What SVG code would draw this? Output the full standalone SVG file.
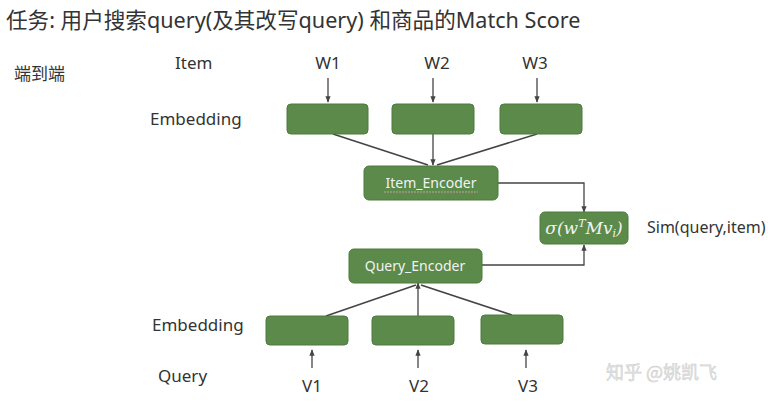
<svg xmlns="http://www.w3.org/2000/svg" width="768" height="402" viewBox="0 0 768 402">
<defs>
<marker id="ah" viewBox="0 0 10 10" refX="9" refY="5" markerWidth="5" markerHeight="5" orient="auto"><path d="M0,1 L10,5 L0,9 z" fill="#444"/></marker>
<style>
.t{font-family:"Noto Sans","Noto Sans CJK SC",sans-serif;fill:#333;}
.b{fill:#5b8a4a;stroke:#4d7a3e;stroke-width:1;}
.bt{font-family:"Noto Sans",sans-serif;fill:#f2f2f2;font-size:14px;text-anchor:middle;}
.c{stroke:#444;stroke-width:1.6;fill:none;}
.a{stroke:#444;stroke-width:1.3;fill:none;marker-end:url(#ah);}
</style>
</defs>
<rect width="768" height="402" fill="#fff"/>
<text class="t" x="6" y="28" font-size="21.6">任务: 用户搜索query(及其改写query) 和商品的Match Score</text>
<text class="t" x="14" y="80" font-size="17">端到端</text>
<text class="t" x="175" y="69" font-size="17">Item</text>
<text class="t" x="150" y="125" font-size="17">Embedding</text>
<text class="t" x="152" y="331" font-size="17">Embedding</text>
<text class="t" x="158" y="382" font-size="17">Query</text>
<text class="t" x="328" y="69" font-size="17" text-anchor="middle">W1</text>
<text class="t" x="437" y="69" font-size="17" text-anchor="middle">W2</text>
<text class="t" x="535" y="69" font-size="17" text-anchor="middle">W3</text>
<text class="t" x="312" y="392" font-size="17" text-anchor="middle">V1</text>
<text class="t" x="419" y="392" font-size="17" text-anchor="middle">V2</text>
<text class="t" x="528" y="392" font-size="17" text-anchor="middle">V3</text>
<text class="t" x="647" y="233" font-size="16">Sim(query,item)</text>
<g id="connectors">
<path class="a" d="M328,78 V102"/>
<path class="a" d="M433,78 V102"/>
<path class="a" d="M537,78 V102"/>
<path class="c" d="M333,134 L428,165"/>
<path class="a" d="M433,134 V165"/>
<path class="c" d="M537,134 L437,165"/>
<path class="a" d="M498,183 H584 V212"/>
<path class="a" d="M482,265 H584 V245"/>
<path class="c" d="M326,316 L416,285"/>
<path class="a" d="M418,316 V283"/>
<path class="c" d="M512,315 L421,285"/>
<path class="a" d="M312,368 V350"/>
<path class="a" d="M418,368 V350"/>
<path class="a" d="M526,368 V350"/>
</g>
<g id="emb_w1"><rect class="b" x="287" y="104" width="81" height="30" rx="4"/></g>
<g id="emb_w2"><rect class="b" x="392" y="104" width="82" height="30" rx="4"/></g>
<g id="emb_w3"><rect class="b" x="500" y="104" width="82" height="30" rx="4"/></g>
<g id="item_encoder"><rect class="b" x="364" y="166" width="134" height="34" rx="5"/><text class="bt" x="431" y="188">Item_Encoder</text><path d="M384,192 H478" stroke="#c9a0a0" stroke-width="1" stroke-dasharray="2,1" fill="none"/></g>
<g id="sigma"><rect class="b" x="540" y="212" width="88" height="32" rx="5"/><text x="584" y="234" font-family="'DejaVu Serif',serif" font-style="italic" font-size="17" fill="#f2f2f2" text-anchor="middle">σ(w<tspan font-size="11" dy="-7">T</tspan><tspan dy="7">Mv</tspan><tspan font-size="11" dy="3">i</tspan><tspan dy="-3">)</tspan></text></g>
<g id="query_encoder"><rect class="b" x="349" y="249" width="133" height="34" rx="5"/><text class="bt" x="415" y="271">Query_Encoder</text></g>
<g id="emb_v1"><rect class="b" x="266" y="316" width="82" height="29" rx="4"/></g>
<g id="emb_v2"><rect class="b" x="372" y="316" width="82" height="29" rx="4"/></g>
<g id="emb_v3"><rect class="b" x="481" y="315" width="82" height="29" rx="4"/></g>
<text x="606" y="379" font-family="'Noto Sans CJK SC',sans-serif" font-size="18" fill="#e4e4e4" stroke="#c8c8c8" stroke-width="0.4">知乎 @姚凯飞</text>
</svg>
